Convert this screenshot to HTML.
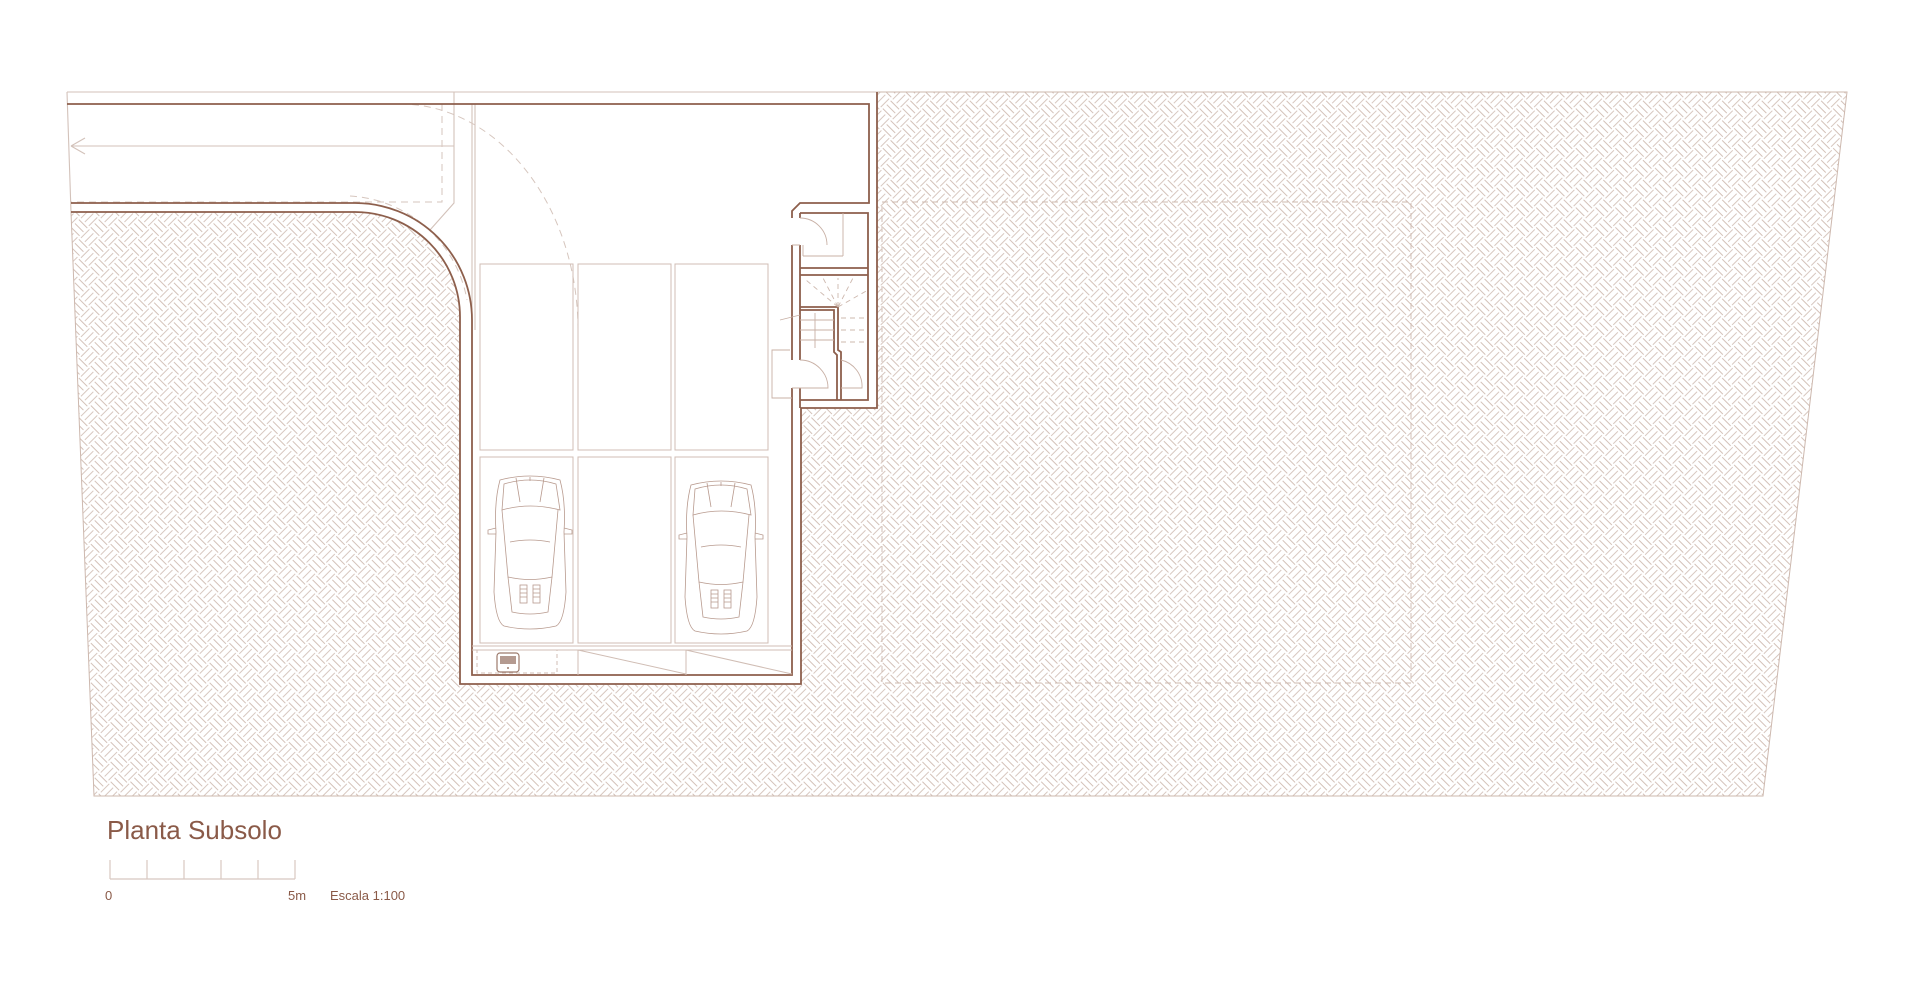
<!DOCTYPE html>
<html><head><meta charset="utf-8"><style>
html,body{margin:0;padding:0;background:#fff;}
svg{display:block}
text{font-family:"Liberation Sans",sans-serif;fill:#8a5a48}
</style></head><body>
<svg width="1920" height="993" viewBox="0 0 1920 993" xmlns="http://www.w3.org/2000/svg">
<defs>
<pattern id="bw" width="28" height="28" patternUnits="userSpaceOnUse" patternTransform="rotate(45)">
<g stroke="#d3c1b8" stroke-width="0.9" fill="none">
<path d="M1 1.5H13M1 7H13M1 12.5H13"/>
<path d="M15.5 1V13M21 1V13M26.5 1V13"/>
<path d="M1.5 15V27M7 15V27M12.5 15V27"/>
<path d="M15 15.5H27M15 21H27M15 26.5H27"/>
</g>
</pattern>
<g id="car" fill="none" stroke="#b89a8e" stroke-width="0.8">
<path d="M6 8 Q36 0 66 8 Q72 30 70 60 L72 120 Q70 150 62 154 Q36 160 10 154 Q2 150 0 120 L2 60 Q0 30 6 8Z"/>
<path d="M10 12 Q36 4 62 12 L66 38 Q36 30 8 38Z"/>
<path d="M8 38 L14 105 Q36 110 58 105 L64 38"/>
<path d="M16 70 Q36 66 56 70"/>
<path d="M14 105 L18 140 Q36 144 54 140 L58 105"/>
<path d="M2 56 L-6 58 L-6 62 L2 62 M70 56 L78 58 L78 62 L70 62"/>
<rect x="26" y="113" width="7" height="18"/><rect x="39" y="113" width="7" height="18"/>
<path d="M26 117h7M26 121h7M26 125h7M39 117h7M39 121h7M39 125h7"/>
<path d="M22 6 L26 30 M50 6 L46 30 M36 5v4"/>
</g>
</defs>

<path d="M71 212 H355 A105 105 0 0 1 460 317 V684 H801 V408 H877 V92 H1847 L1763 796 H94 Z" fill="url(#bw)" stroke="#cdb8ae" stroke-width="1"/>

<rect x="882" y="202" width="529" height="481" fill="none" stroke="#cdb8ae" stroke-width="0.9" stroke-dasharray="6 4"/>

<g fill="none" stroke="#d3c2ba" stroke-width="1.1">
<path d="M67 92 H877"/>
<path d="M67 92 L71 212"/>
<path d="M454 92 V203 L430 230"/>
<path d="M71 146 H454"/>
<path d="M71 146 l14 -8 M71 146 l14 8"/>
<path d="M472 104 V330 M475 104 V330"/>
</g>
<g fill="none" stroke="#d6c6be" stroke-width="1" stroke-dasharray="7 5">
<path d="M442 104 V202 H71"/>
<path d="M400 104 A178 226 0 0 1 578 330 V340"/>
<path d="M350 196 A126 126 0 0 1 467 300"/>
</g>

<g fill="none" stroke="#8d5f4c" stroke-width="1.8">
<path d="M67 104 H869 V203 H800 L792 211 V218"/>
<path d="M71 203 H355 A117 117 0 0 1 472 320"/>
<path d="M71 212 H355 A105 105 0 0 1 460 317 V684 H801 V408 H877 V92"/>
<path d="M472 320 V675 H792 V388 M792 360 V245"/>
<path d="M800 245 V360 M800 388 V408"/>
<path d="M800 213 H868 V400 H800 M800 213 V218"/>
<path d="M800 268 H868 M800 275 H868"/>
<path d="M800 307 H838 V350 L841 352 V400 M800 310 H834 V352 L837 355 V400"/>
</g>

<g fill="none" stroke="#c8b0a5" stroke-width="0.9">
<path d="M800 218 A27 27 0 0 1 827 245 M800 245 H792"/>
<path d="M800 360 A28 28 0 0 1 828 388 H792"/>
<path d="M841 360 A27 27 0 0 1 862 388 H841"/>
<path d="M843 213 V256 M803 256 H843 M803 245 V256"/>
<path d="M800 320 H834 M800 330 H834 M800 340 H834 M815 313 V348"/>
<path d="M790 350 H772 V398 H792 M780 320 L800 315"/>
</g>
<g fill="none" stroke="#cdb8ae" stroke-width="0.9" stroke-dasharray="5 4">
<path d="M838 307 L806 280 M838 307 L823 278 M838 307 L838 278 M838 307 L853 278 M838 307 L868 290 M841 318 H868 M841 330 H868 M841 342 H868"/>
</g>

<g fill="none" stroke="#d0bdb4" stroke-width="1">
<rect x="480" y="264" width="93" height="186"/><rect x="578" y="264" width="93" height="186"/><rect x="675" y="264" width="93" height="186"/>
<rect x="480" y="457" width="93" height="186"/><rect x="578" y="457" width="93" height="186"/><rect x="675" y="457" width="93" height="186"/>
<path d="M472 646 H792 M472 650 H792 M578 650 V675 M686 650 V675 M578 650 L686 674 M686 650 L792 674"/>
</g>
<rect x="477" y="650" width="80" height="23" fill="none" stroke="#d0bdb4" stroke-dasharray="4 3"/>
<rect x="497" y="653" width="22" height="19" rx="3" fill="none" stroke="#9c7a6c" stroke-width="1.2"/>
<rect x="500" y="656" width="16" height="8" fill="#b49a90"/>
<circle cx="508" cy="668" r="1" fill="#9c7a6c"/>
<use href="#car" x="494" y="472"/>
<use href="#car" x="685" y="477"/>

<text x="107" y="839" font-size="26">Planta Subsolo</text>
<g stroke="#d8c8c0" stroke-width="1.2">
<path d="M110 879 H295 M110 860 V879 M147 860 V879 M184 860 V879 M221 860 V879 M258 860 V879 M295 860 V879"/>
</g>
<text x="105" y="900" font-size="13">0</text>
<text x="288" y="900" font-size="13">5m</text>
<text x="330" y="900" font-size="13">Escala 1:100</text>
</svg>
</body></html>
